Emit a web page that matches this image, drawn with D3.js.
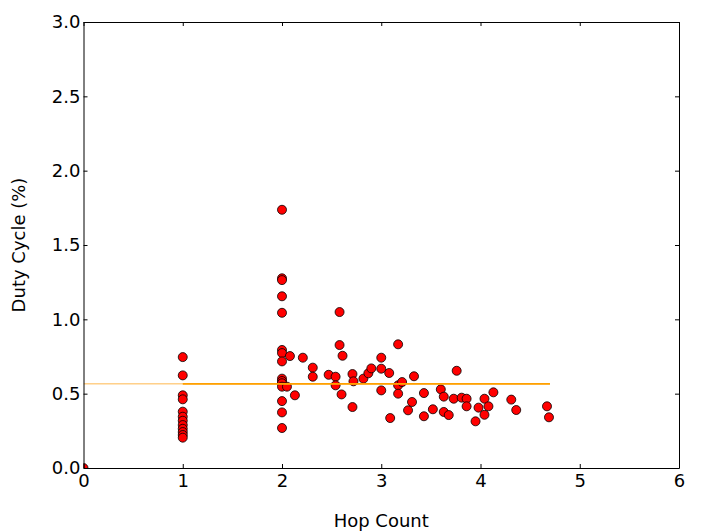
<!DOCTYPE html>
<html>
<head>
<title>Duty cycle vs hop count</title>
<script src="https://d3js.org/d3.v7.min.js"></script>
<style type="text/css">
body { margin: 0; background: #fff; }
svg text { font-family: "DejaVu Sans", sans-serif; }
</style>
</head>
<body>
<div id="chart"></div>
<script type="text/javascript">
// hop count of each node and its duty cycle (%)
var hops = [0,
  1, 1, 1, 1, 1, 1, 1, 1, 1, 1, 1, 1,
  2, 2, 2, 2, 2, 2, 2, 2, 2, 2, 2, 2, 2, 2, 2,
  2.05, 2.08, 2.13, 2.21, 2.31, 2.31, 2.47, 2.54, 2.54, 2.58, 2.58, 2.60, 2.61,
  2.71, 2.72, 2.71, 2.82, 2.87, 2.90, 3.00, 3.00, 3.00, 3.08, 3.09,
  3.17, 3.17, 3.17, 3.21, 3.27, 3.31, 3.33, 3.43, 3.43, 3.52,
  3.60, 3.63, 3.63, 3.68, 3.73, 3.76, 3.81, 3.86, 3.86, 3.95, 3.98,
  4.04, 4.04, 4.08, 4.13, 4.31, 4.36, 4.67, 4.69];
var duty = [0,
  0.746, 0.623, 0.489, 0.462, 0.379, 0.345, 0.318, 0.289, 0.264, 0.242, 0.222, 0.204,
  1.737, 1.276, 1.264, 1.155, 1.044, 0.794, 0.773, 0.717, 0.601, 0.585, 0.570, 0.547, 0.450, 0.374, 0.269,
  0.547, 0.753, 0.489, 0.742, 0.675, 0.614, 0.627, 0.614, 0.556, 1.049, 0.827, 0.495, 0.755,
  0.632, 0.583, 0.410, 0.601, 0.637, 0.670, 0.742, 0.668, 0.522, 0.639, 0.336,
  0.832, 0.556, 0.500, 0.578, 0.388, 0.444, 0.617, 0.504, 0.348, 0.395,
  0.529, 0.480, 0.377, 0.356, 0.466, 0.654, 0.473, 0.466, 0.415, 0.314, 0.406,
  0.466, 0.358, 0.415, 0.509, 0.460, 0.390, 0.415, 0.341];

// average duty cycle lines
var avgAllX = [0, 4.7], avgAllY = [0.566, 0.566];
var avgHopX = [1, 4.7], avgHopY = [0.566, 0.566];

var xTicks = [0, 1, 2, 3, 4, 5, 6];
var yTicks = [0, 0.5, 1.0, 1.5, 2.0, 2.5, 3.0];

var W = 703, H = 531;
var pl = 83.5, pt = 22, pr = 679, pb = 468;

var svg = d3.select("#chart").append("svg").attr("width", W).attr("height", H);

var x = d3.scaleLinear().domain([0, 6]).range([pl, pr]);
var y = d3.scaleLinear().domain([0, 3]).range([pb, pt]);

svg.append("clipPath").attr("id", "plot")
  .append("rect").attr("x", pl).attr("y", pt)
  .attr("width", pr - pl).attr("height", pb - pt);

var g = svg.append("g").attr("clip-path", "url(#plot)");

g.selectAll("circle")
  .data(hops.map(function (h, i) { return [h, duty[i]]; }))
  .enter().append("circle")
  .attr("cx", function (d) { return x(d[0]); })
  .attr("cy", function (d) { return y(d[1]); })
  .attr("r", 4.5)
  .attr("fill", "#ff0000")
  .attr("stroke", "#000")
  .attr("stroke-width", 0.8);

var line = d3.line().x(function (d) { return x(d[0]); }).y(function (d) { return y(d[1]); });
g.append("path")
  .attr("d", line(avgAllX.map(function (v, i) { return [v, avgAllY[i]]; })))
  .attr("stroke", "#ffb84d").attr("stroke-width", 1).attr("fill", "none");
g.append("path")
  .attr("d", line(avgHopX.map(function (v, i) { return [v, avgHopY[i]]; })))
  .attr("stroke", "#ffa000").attr("stroke-width", 1.6).attr("fill", "none");

function style(sel) {
  sel.select(".domain").attr("stroke", "#000").attr("stroke-width", 1);
  sel.selectAll(".tick line").attr("stroke", "#000");
  sel.selectAll(".tick text").attr("font-size", "18px").attr("fill", "#000")
    .attr("font-family", "DejaVu Sans");
}

svg.append("g").attr("transform", "translate(0," + pb + ")")
  .call(d3.axisBottom(x).tickValues(xTicks).tickFormat(d3.format("d"))
    .tickSize(-4).tickSizeOuter(0).tickPadding(6))
  .call(style);
svg.append("g").attr("transform", "translate(0," + pt + ")")
  .call(d3.axisTop(x).tickValues(xTicks).tickFormat("").tickSize(-4).tickSizeOuter(0))
  .call(style);
svg.append("g").attr("transform", "translate(" + pl + ",0)")
  .call(d3.axisLeft(y).tickValues(yTicks).tickFormat(d3.format(".1f"))
    .tickSize(-4).tickSizeOuter(0).tickPadding(3))
  .call(style);
svg.append("g").attr("transform", "translate(" + pr + ",0)")
  .call(d3.axisRight(y).tickValues(yTicks).tickFormat("").tickSize(-4).tickSizeOuter(0))
  .call(style);

svg.append("text")
  .attr("x", (pl + pr) / 2).attr("y", 527)
  .attr("text-anchor", "middle").attr("font-size", "18px")
  .text("Hop Count");
svg.append("text")
  .attr("transform", "translate(25," + (pt + pb) / 2 + ") rotate(-90)")
  .attr("text-anchor", "middle").attr("font-size", "18px")
  .text("Duty Cycle (%)");
</script>
</body>
</html>
